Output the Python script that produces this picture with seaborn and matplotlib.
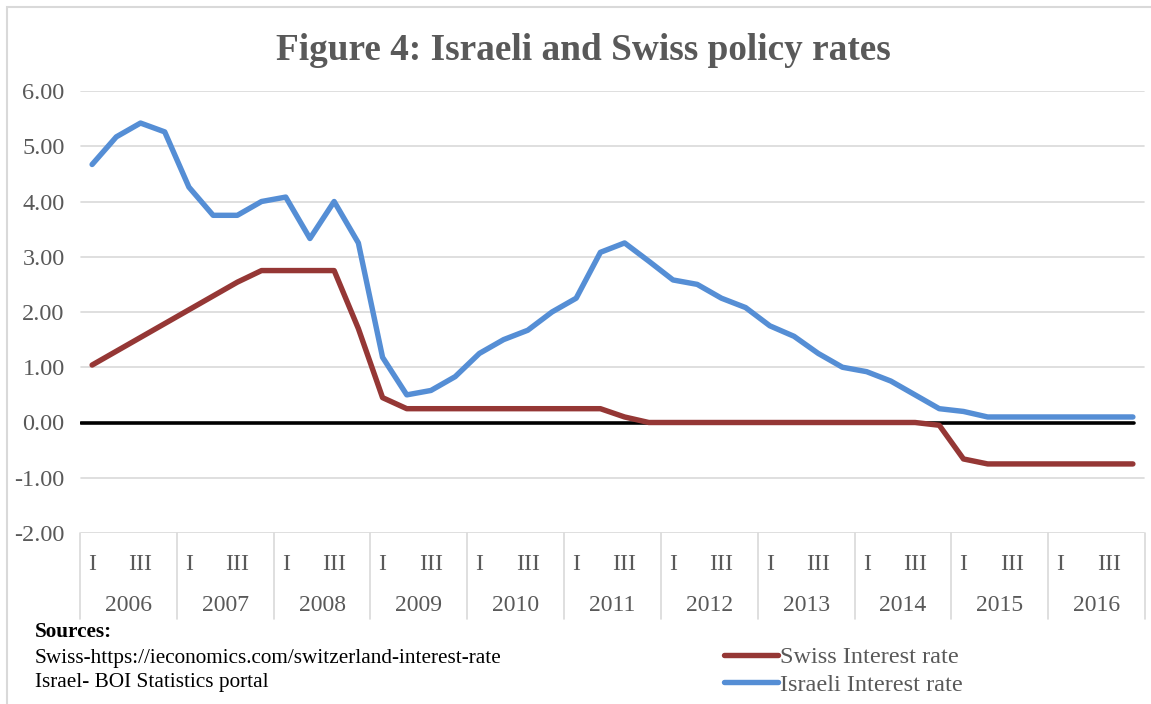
"""
Figure 4 : taux directeurs israélien et suisse, trimestriels 2006-2016.
"""
import matplotlib.pyplot as plt
import numpy as np
import pandas as pd
import seaborn as sns
from matplotlib.lines import Line2D
from matplotlib.patches import Rectangle

years = [str(y) for y in range(2006, 2017)]
quarters = ["I", "II", "III", "IV"]
quarter_labels = ["I", "", "III", ""]

israel_rate = [
    4.67, 5.17, 5.42, 5.26, 4.26, 3.75, 3.75, 4.00, 4.08, 3.33, 4.00, 3.25,
    1.18, 0.50, 0.58, 0.83, 1.25, 1.50, 1.67, 2.00, 2.25, 3.08, 3.25, 2.92,
    2.58, 2.50, 2.25, 2.08, 1.75, 1.56, 1.25, 1.00, 0.92, 0.75, 0.50, 0.25,
    0.20, 0.10, 0.10, 0.10, 0.10, 0.10, 0.10, 0.10,
]
swiss_rate = [
    1.04, 1.29, 1.54, 1.79, 2.04, 2.29, 2.54, 2.75, 2.75, 2.75, 2.75, 1.70,
    0.45, 0.25, 0.25, 0.25, 0.25, 0.25, 0.25, 0.25, 0.25, 0.25, 0.10, 0.00,
    0.00, 0.00, 0.00, 0.00, 0.00, 0.00, 0.00, 0.00, 0.00, 0.00, 0.00, -0.05,
    -0.66, -0.75, -0.75, -0.75, -0.75, -0.75, -0.75, -0.75,
]
series_names = ["Swiss Interest rate", "Israeli Interest rate"]
y_ticks = [-2, -1, 0, 1, 2, 3, 4, 5, 6]

RED = "#953735"
BLUE = "#558ed5"
GREY_TXT = "#595959"
GRID = "#d9d9d9"

n = len(israel_rate)
df = pd.DataFrame({
    "idx": np.tile(np.arange(n), 2),
    "rate": swiss_rate + israel_rate,
    "series": np.repeat(series_names, n),
})

sns.set_theme(style="white")
plt.rcParams["font.family"] = ["Liberation Serif", "DejaVu Serif"]

W, H = 1151, 704
fig = plt.figure(figsize=(W / 100, H / 100), dpi=100)
# zone de tracé en pixels : x 80..1145, y 91..533
ax = fig.add_axes([80 / W, 1 - 533 / H, (1145 - 80) / W, (533 - 91) / H])

# cadre extérieur du graphique
fig.patches.append(Rectangle((7 / W, -0.1), 1.2, 1 - 7 / H + 0.1,
                             transform=fig.transFigure, fill=False,
                             edgecolor=GRID, linewidth=1.5))

for yt in y_ticks:
    if yt != 0:
        ax.plot([-0.45, n - 0.55], [yt, yt], color=GRID, lw=1.2, zorder=1)
ax.plot([-0.45, n - 1 + 0.05], [0, 0], color="black", lw=2.6, zorder=2)

sns.lineplot(data=df, x="idx", y="rate", hue="series",
             palette={series_names[0]: RED, series_names[1]: BLUE},
             linewidth=3.9, ax=ax, legend=False, zorder=3)

ax.set_xlim(-0.5, n - 0.5)
ax.set_ylim(-2, 6)
ax.set_yticks(y_ticks)
ax.set_yticklabels([f"{v:.2f}" for v in y_ticks], color=GREY_TXT, fontsize=17.5)
ax.tick_params(axis="y", length=0, pad=11)
ax.set_xticks([])
ax.set_xlabel("")
ax.set_ylabel("")
for s in ax.spines.values():
    s.set_visible(False)

# axe des catégories à deux niveaux (trimestre / année)
xt = ax.get_xaxis_transform()
y_q = -0.072
y_y = -0.163
y_sep = -0.195
for k, yr in enumerate(years):
    left = k * 4 - 0.5
    ax.plot([left, left], [0, y_sep], transform=xt, color=GRID, lw=1.2,
            clip_on=False)
    for q in range(4):
        lab = quarter_labels[q]
        if lab:
            ax.text(k * 4 + q, y_q, lab, transform=xt, ha="center", va="center",
                    fontsize=17, color=GREY_TXT)
    ax.text(k * 4 + 1.5, y_y, yr, transform=xt, ha="center", va="center",
            fontsize=17, color=GREY_TXT)
ax.plot([n - 0.5, n - 0.5], [0, y_sep], transform=xt, color=GRID, lw=1.2,
        clip_on=False)

fig.text(583 / W, 1 - 50 / H, "Figure 4: Israeli and Swiss policy rates",
         ha="center", va="center", fontsize=26.8, fontweight="bold", color=GREY_TXT)

fig.text(35 / W, 1 - 632 / H, "Sources:", ha="left", va="center",
         fontsize=15.3, fontweight="bold", color="black")
fig.text(35 / W, 1 - 658 / H, "Swiss-https://ieconomics.com/switzerland-interest-rate",
         ha="left", va="center", fontsize=15.3, color="black")
fig.text(35 / W, 1 - 683 / H, "Israel- BOI Statistics portal",
         ha="left", va="center", fontsize=15.3, color="black")

handles = [Line2D([], [], color=RED, lw=3.9), Line2D([], [], color=BLUE, lw=3.9)]
fig.legend(handles, series_names, loc="center left",
           bbox_to_anchor=(712 / W, 1 - 671 / H), frameon=False,
           fontsize=17.5, labelcolor=GREY_TXT, handlelength=2.2,
           handletextpad=0.1, labelspacing=0.22, borderpad=0)

fig.savefig("out.png", dpi=100)
plt.close(fig)
